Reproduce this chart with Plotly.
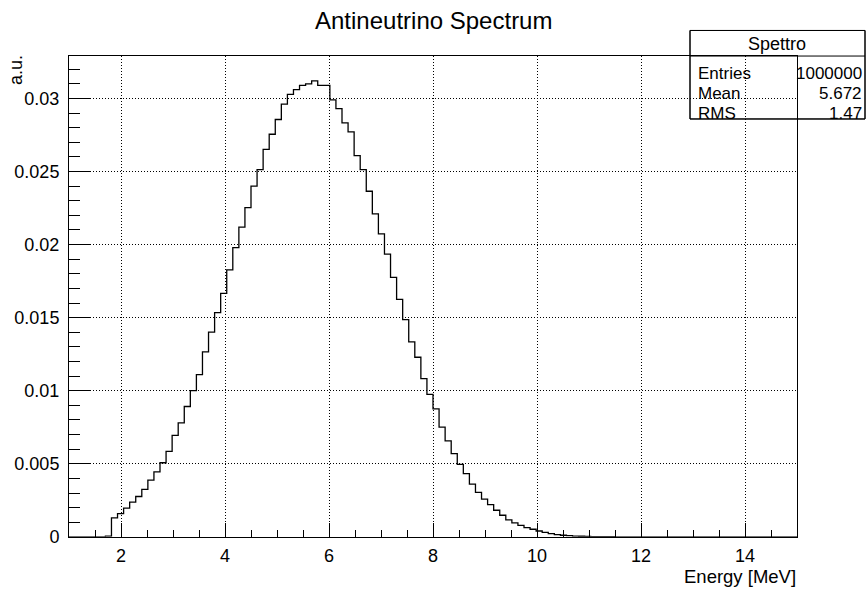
import plotly.graph_objects as go

# ---------------- data ----------------
chart_title = "Antineutrino Spectrum"
x_title = "Energy [MeV]"
y_title = "a.u."
hist_name = "Spettro"
stats_labels = ["Entries", "Mean", "RMS"]
stats_values = ["1000000", "5.672", "1.47"]

# histogram binning (ROOT TH1: 120 bins from 1 to 15 MeV)
x_min, x_max, n_bins = 1.0, 15.0, 120
first_bin = 6  # index of first non-empty bin
# bin contents in units of 1e-3 (a.u.), starting at first_bin
bin_values = [
    0.05, 1.30, 1.59, 1.97, 2.38, 2.76, 3.25, 3.88, 4.44, 5.07,
    5.85, 6.95, 7.80, 8.92, 10.00, 11.10, 12.66, 14.01, 15.35, 16.66,
    18.27, 19.79, 21.20, 22.53, 24.00, 25.13, 26.52, 27.55, 28.56, 29.61,
    30.28, 30.60, 30.90, 31.00, 31.20, 30.90, 30.90, 29.90, 29.30, 28.33,
    27.71, 26.09, 25.13, 23.65, 22.10, 20.73, 19.35, 17.75, 16.25, 14.86,
    13.34, 12.29, 10.83, 9.75, 8.76, 7.51, 6.57, 5.70, 4.96, 4.33,
    3.61, 3.05, 2.58, 2.20, 1.82, 1.48, 1.16, 0.96, 0.79, 0.63,
    0.52, 0.40, 0.31, 0.22, 0.15, 0.11, 0.08, 0.05, 0.04, 0.03,
    0.02, 0.015, 0.01, 0.007, 0.005, 0.003, 0.002, 0.001,
]
x_tick_vals = [2, 4, 6, 8, 10, 12, 14]
y_tick_vals = [0, 0.005, 0.01, 0.015, 0.02, 0.025, 0.03]
y_tick_text = ["0", "0.005", "0.01", "0.015", "0.02", "0.025", "0.03"]
y_max = 0.0329

# ---------------- build histogram ----------------
bw = (x_max - x_min) / n_bins
contents = [0.0] * n_bins
for i, v in enumerate(bin_values):
    contents[first_bin + i] = v * 1e-3
edges = [x_min + i * bw for i in range(n_bins + 1)]
ys = contents + [contents[-1]]

W, H = 866, 597
L, R, T, B = 69, 797, 57, 546  # frame in pixels


def px(p):
    return p / W


def py(p):
    return 1 - p / H


FONT = "Liberation Sans, Arial, Helvetica, sans-serif"
TICK_FS = 18
STAT_FS = 17

fig = go.Figure()
fig.add_trace(go.Scatter(
    x=edges, y=ys, mode="lines", line=dict(color="black", width=1.3, shape="hv"),
    hoverinfo="skip", showlegend=False,
))

grid_dash = "1px,2px"
fig.update_layout(
    width=W, height=H,
    margin=dict(l=0, r=0, t=0, b=0),
    paper_bgcolor="white", plot_bgcolor="white",
    font=dict(family=FONT, color="black", size=TICK_FS),
    xaxis=dict(
        domain=[px(L), px(R)], range=[x_min, x_max],
        tickvals=x_tick_vals, ticks="inside", ticklen=14, tickwidth=1, tickcolor="black",
        minor=dict(ticks="inside", ticklen=7, dtick=0.5, tick0=1, tickcolor="black", showgrid=False),
        showline=True, linecolor="black", linewidth=1, mirror=True,
        showgrid=True, gridcolor="black", gridwidth=1, griddash=grid_dash,
        zeroline=False, tickfont=dict(size=TICK_FS, family=FONT), ticklabelstandoff=3,
    ),
    yaxis=dict(
        domain=[py(B), py(T)], range=[0, y_max],
        tickvals=y_tick_vals, ticktext=y_tick_text, ticks="inside", ticklen=22, tickwidth=1,
        tickcolor="black",
        minor=dict(ticks="inside", ticklen=11, dtick=0.001, tick0=0, tickcolor="black", showgrid=False),
        showline=True, linecolor="black", linewidth=1, mirror=True,
        showgrid=True, gridcolor="black", gridwidth=1, griddash=grid_dash,
        zeroline=False, tickfont=dict(size=TICK_FS, family=FONT), ticklabelstandoff=5,
    ),
)

annotations = [
    dict(text=chart_title, x=px(433), y=py(21), xref="paper", yref="paper",
         xanchor="center", yanchor="middle", showarrow=False, font=dict(size=24)),
    dict(text=x_title, x=px(798), y=py(586), xref="paper", yref="paper",
         xanchor="right", yanchor="middle", showarrow=False, font=dict(size=18.5)),
    dict(text=y_title, x=px(16), y=py(54), xref="paper", yref="paper",
         xanchor="center", yanchor="top", textangle=-90, showarrow=False, font=dict(size=18)),
    dict(text=hist_name, x=px(777), y=py(45), xref="paper", yref="paper",
         xanchor="center", yanchor="middle", showarrow=False, font=dict(size=STAT_FS + 1)),
]
row_y = [75, 95, 115]
for lab, val, yy in zip(stats_labels, stats_values, row_y):
    annotations.append(dict(text=lab, x=px(696), y=py(yy), xref="paper", yref="paper",
                            xanchor="left", yanchor="middle", showarrow=False,
                            font=dict(size=STAT_FS)))
    annotations.append(dict(text=val, x=px(864), y=py(yy), xref="paper", yref="paper",
                            xanchor="right", yanchor="middle", showarrow=False,
                            font=dict(size=STAT_FS)))
fig.update_layout(annotations=annotations)

box_top, box_bot = 31, 121
fig.update_layout(shapes=[
    dict(type="rect", xref="paper", yref="paper", x0=px(690), x1=px(865), y0=py(box_bot), y1=py(box_top),
         line=dict(color="black", width=1), fillcolor="white", layer="below"),
    dict(type="line", xref="paper", yref="paper", x0=px(690), x1=px(865), y0=py(57), y1=py(57),
         line=dict(color="black", width=1), layer="above"),
    dict(type="rect", xref="paper", yref="paper", x0=px(690), x1=px(865), y0=py(box_bot), y1=py(box_top),
         line=dict(color="black", width=1), fillcolor="rgba(0,0,0,0)", layer="above"),
])

fig.write_html("out.html")
